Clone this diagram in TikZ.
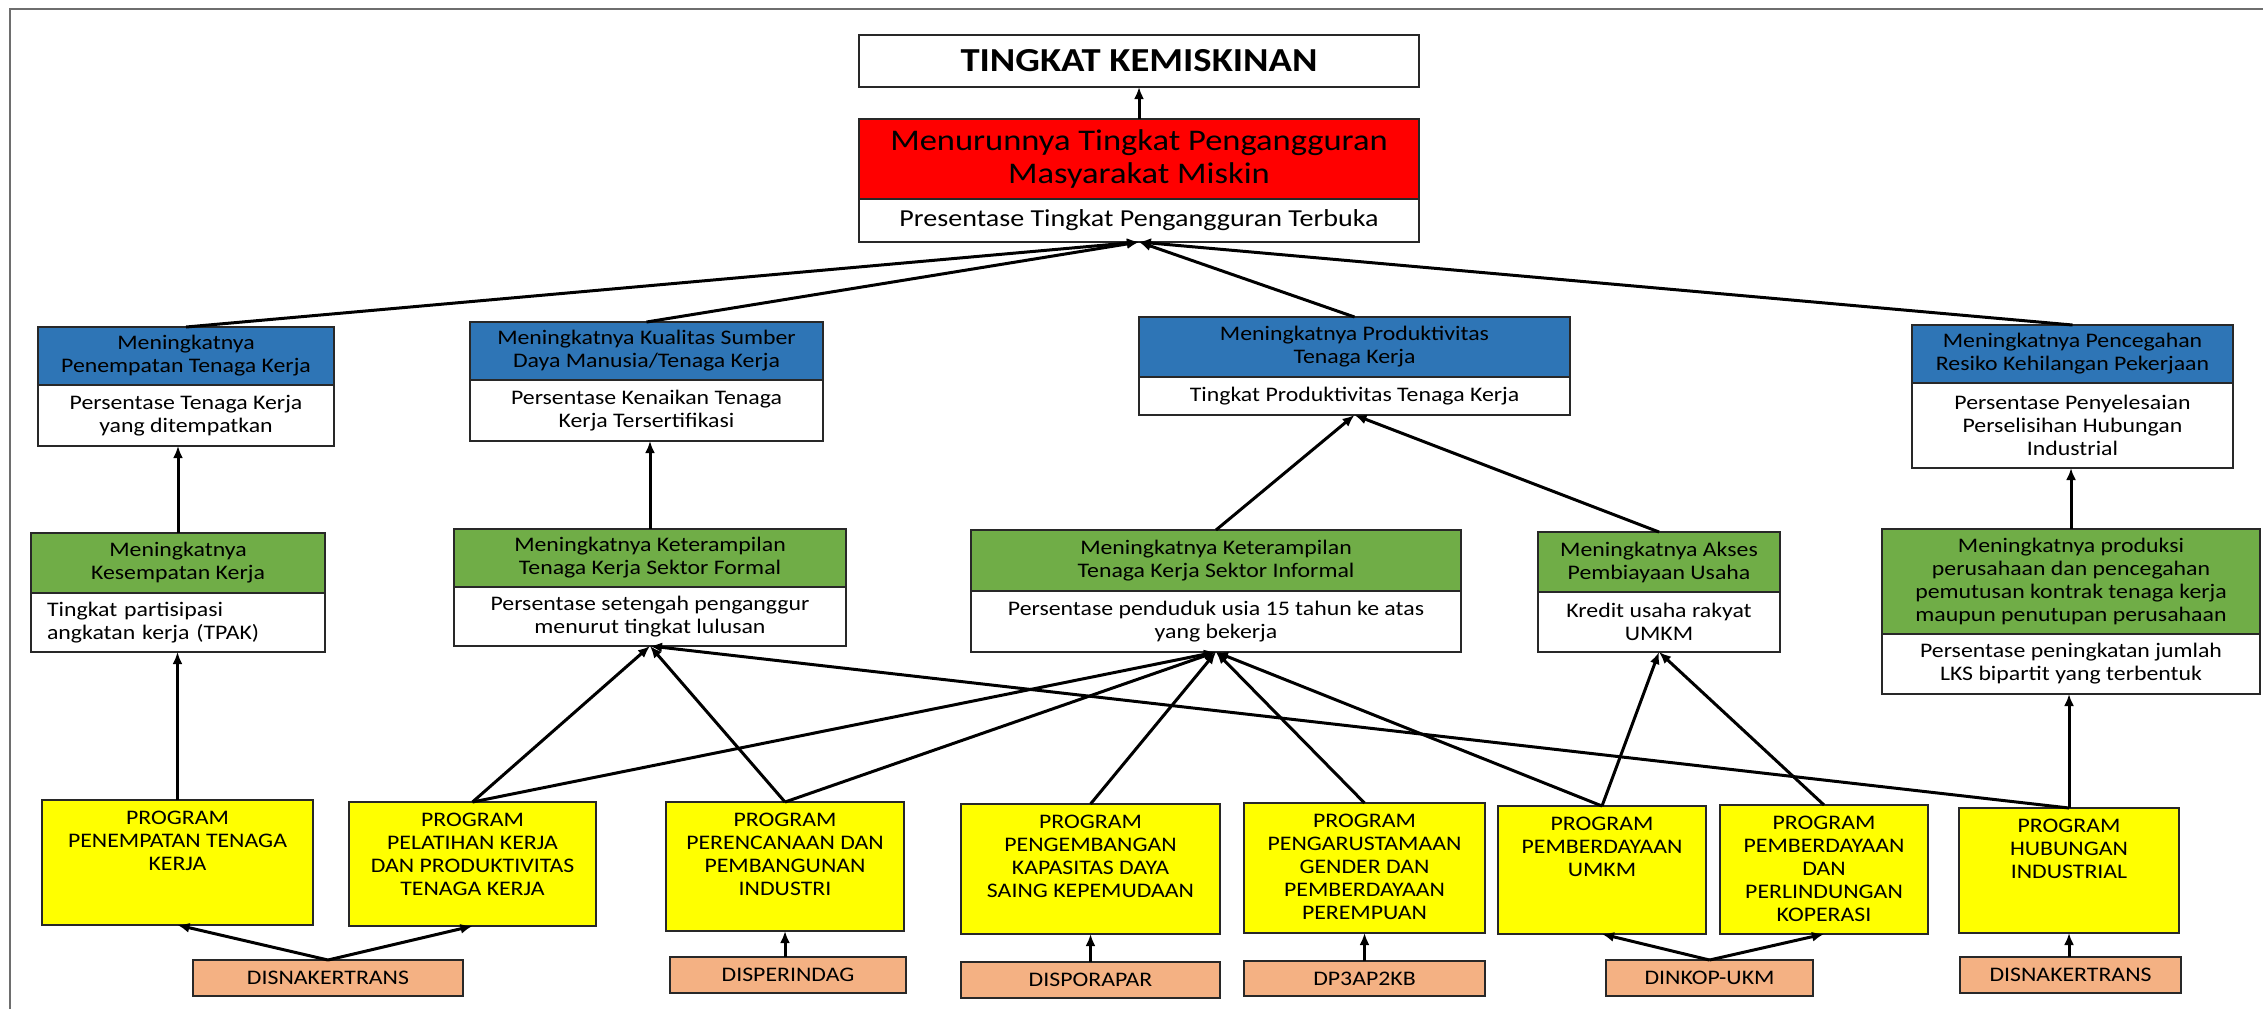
\documentclass[tikz,border=0pt]{standalone}
\usepackage{fontspec}
\setmainfont{Carlito}[FakeStretch=1.15]
\usetikzlibrary{arrows.meta,positioning}
\definecolor{goalblue}{RGB}{46,117,182}
\definecolor{outgreen}{RGB}{112,173,71}
\definecolor{progyellow}{RGB}{255,255,0}
\definecolor{opdorange}{RGB}{244,177,131}
\definecolor{impactred}{RGB}{255,0,0}
\definecolor{boxline}{RGB}{40,40,40}
\definecolor{frameline}{RGB}{110,110,110}

\tikzset{
  box/.style={draw=boxline, line width=0.9pt, outer sep=0pt, inner sep=2pt, align=center,
    font=\fontsize{10.35}{11.5}\selectfont},
  goal/.style={box, fill=goalblue},
  outcome/.style={box, fill=outgreen},
  indic/.style={box, fill=white},
  prog/.style={box, fill=progyellow},
  progtext/.style={anchor=north, align=center, inner sep=0pt, yshift=-5.5pt,
    font=\fontsize{10.35}{11.5}\selectfont},
  opd/.style={box, fill=opdorange},
  link/.style={-{Latex[length=6pt,width=5pt]}, line width=1.5pt},
}

\begin{document}
\begin{tikzpicture}[x=0.5pt, y=-0.5pt]
    \useasboundingbox (0,0) rectangle (2263,1009);
    \draw[frameline, line width=1pt] (10,1009) -- (10,9) -- (2263,9);

    % impact and its indicator
    \node[box, minimum width=280pt, minimum height=26pt, font=\fontsize{16.8}{18}\selectfont\bfseries] (title) at (1139,61) {TINGKAT KEMISKINAN};
    \node[box, fill=impactred, minimum width=280pt, minimum height=40pt, font=\fontsize{15}{16.5}\selectfont] (impact) at (1139,159) {Menurunnya Tingkat Pengangguran\\Masyarakat Miskin};
    \node[indic, below=0pt of impact, minimum width=280pt, minimum height=21.5pt, font=\fontsize{12.2}{14}\selectfont] (pres) {Presentase Tingkat Pengangguran Terbuka};

    % goals (blue) with indicators
    \node[goal, minimum width=148pt, minimum height=29pt] (goal1) at (186,356) {Meningkatnya\\Penempatan Tenaga Kerja};
    \node[indic, below=0pt of goal1, minimum width=148pt, minimum height=30.5pt] (goal1ind) {Persentase Tenaga Kerja\\yang ditempatkan};
    \node[goal, minimum width=176.5pt, minimum height=29pt] (goal2) at (646.5,351) {Meningkatnya Kualitas Sumber\\Daya Manusia/Tenaga Kerja};
    \node[indic, below=0pt of goal2, minimum width=176.5pt, minimum height=30.5pt] (goal2ind) {Persentase Kenaikan Tenaga\\Kerja Tersertifikasi};
    \node[goal, minimum width=215.5pt, minimum height=30pt] (goal3) at (1354.5,347) {Meningkatnya Produktivitas\\Tenaga Kerja};
    \node[indic, below=0pt of goal3, minimum width=215.5pt, minimum height=19pt] (goal3ind) {Tingkat Produktivitas Tenaga Kerja};
    \node[goal, minimum width=160.5pt, minimum height=29pt] (goal4) at (2072.5,354) {Meningkatnya Pencegahan\\Resiko Kehilangan Pekerjaan};
    \node[indic, below=0pt of goal4, minimum width=160.5pt, minimum height=42.5pt] (goal4ind) {Persentase Penyelesaian\\Perselisihan Hubungan\\Industrial};

    % outcomes (green) with indicators
    \node[outcome, minimum width=147pt, minimum height=30pt] (out1) at (178,563) {Meningkatnya\\Kesempatan Kerja};
    \node[indic, below=0pt of out1, minimum height=29.5pt, inner xsep=8pt, text width=131pt, align=left] (out1ind) {Tingkat partisipasi\\angkatan kerja (TPAK)};
    \node[outcome, minimum width=196pt, minimum height=29pt] (out2) at (650,558) {Meningkatnya Keterampilan\\Tenaga Kerja Sektor Formal};
    \node[indic, below=0pt of out2, minimum width=196pt, minimum height=29.5pt] (out2ind) {Persentase setengah penganggur\\menurut tingkat lulusan};
    \node[outcome, minimum width=245pt, minimum height=30.5pt] (out3) at (1216,560.5) {Meningkatnya Keterampilan\\Tenaga Kerja Sektor Informal};
    \node[indic, below=0pt of out3, minimum width=245pt, minimum height=30.5pt] (out3ind) {Persentase penduduk usia 15 tahun ke atas\\yang bekerja};
    \node[outcome, minimum width=121pt, minimum height=30pt] (out4) at (1659,562) {Meningkatnya Akses\\Pembiayaan Usaha};
    \node[indic, below=0pt of out4, minimum width=121pt, minimum height=30pt] (out4ind) {Kredit usaha rakyat\\UMKM};
    \node[outcome, minimum width=189pt, minimum height=52.5pt] (out5) at (2071,581.5) {Meningkatnya produksi\\perusahaan dan pencegahan\\pemutusan kontrak tenaga kerja\\maupun penutupan perusahaan};
    \node[indic, below=0pt of out5, minimum width=189pt, minimum height=30pt] (out5ind) {Persentase peningkatan jumlah\\LKS bipartit yang terbentuk};

    % programs (yellow), text set at the top of each box
    \node[prog, minimum width=135.5pt, minimum height=62.5pt, label={[progtext]north:{PROGRAM\\PENEMPATAN TENAGA\\KERJA}}] (prog1) at (177.5,862.5) {};
    \node[prog, minimum width=123.5pt, minimum height=62pt, label={[progtext]north:{PROGRAM\\PELATIHAN KERJA\\DAN PRODUKTIVITAS\\TENAGA KERJA}}] (prog2) at (472.5,864) {};
    \node[prog, minimum width=119pt, minimum height=64.5pt, label={[progtext]north:{PROGRAM\\PERENCANAAN DAN\\PEMBANGUNAN\\INDUSTRI}}] (prog3) at (785,866.5) {};
    \node[prog, minimum width=129.5pt, minimum height=65pt, label={[progtext]north:{PROGRAM\\PENGEMBANGAN\\KAPASITAS DAYA\\SAING KEPEMUDAAN}}] (prog4) at (1090.5,869) {};
    \node[prog, minimum width=120.5pt, minimum height=65pt, label={[progtext]north:{PROGRAM\\PENGARUSTAMAAN\\GENDER DAN\\PEMBERDAYAAN\\PEREMPUAN}}] (prog5) at (1364.5,868) {};
    \node[prog, minimum width=104pt, minimum height=64pt, label={[progtext]north:{PROGRAM\\PEMBERDAYAAN\\UMKM}}] (prog6) at (1602,870) {};
    \node[prog, minimum width=104pt, minimum height=64.5pt, label={[progtext]north:{PROGRAM\\PEMBERDAYAAN\\DAN\\PERLINDUNGAN\\KOPERASI}}] (prog7) at (1824,869.5) {};
    \node[prog, minimum width=110pt, minimum height=62.5pt, label={[progtext]north:{PROGRAM\\HUBUNGAN\\INDUSTRIAL}}] (prog8) at (2069,870.5) {};

    % agencies (orange)
    \node[opd, minimum width=135pt, minimum height=18pt] (opd1) at (328,978) {DISNAKERTRANS};
    \node[opd, minimum width=118pt, minimum height=18pt] (opd2) at (788,975) {DISPERINDAG};
    \node[opd, minimum width=129.5pt, minimum height=18pt] (opd3) at (1090.5,980) {DISPORAPAR};
    \node[opd, minimum width=120.5pt, minimum height=17.5pt] (opd4) at (1364.5,978.5) {DP3AP2KB};
    \node[opd, minimum width=103.5pt, minimum height=18pt] (opd5) at (1709.5,978) {DINKOP-UKM};
    \node[opd, minimum width=110.5pt, minimum height=18pt] (opd6) at (2070.5,975) {DISNAKERTRANS};

    % links up the chain
    \draw[link] (impact) -- (title);
    \foreach \g in {1,...,4}
        \draw[link] (goal\g.north) -- (pres.south);
    \draw[link] (out1.north) -- (out1.north |- goal1ind.south);
    \draw[link] (out2.north) -- (out2.north |- goal2ind.south);
    \draw[link] (out3.north) -- (goal3ind.south);
    \draw[link] (out4.north) -- (goal3ind.south);
    \draw[link] (out5.north) -- (out5.north |- goal4ind.south);

    \draw[link] (prog1.north) -- (prog1.north |- out1ind.south);
    \foreach \p/\o in {2/2, 2/3, 3/2, 3/3, 4/3, 5/3, 6/3, 6/4, 7/4, 8/2}
        \draw[link] (prog\p.north) -- (out\o ind.south);
    \draw[link] (prog8.north) -- (prog8.north |- out5ind.south);

    \draw[link] (opd1.north) -- (prog1.south);
    \draw[link] (opd1.north) -- (prog2.south);
    \draw[link] (prog3.south |- opd2.north) -- (prog3.south);
    \draw[link] (opd3) -- (prog4);
    \draw[link] (opd4) -- (prog5);
    \draw[link] (opd5.north) -- (prog6.south);
    \draw[link] (opd5.north) -- (prog7.south);
    \draw[link] (prog8.south |- opd6.north) -- (prog8.south);
\end{tikzpicture}
\end{document}
